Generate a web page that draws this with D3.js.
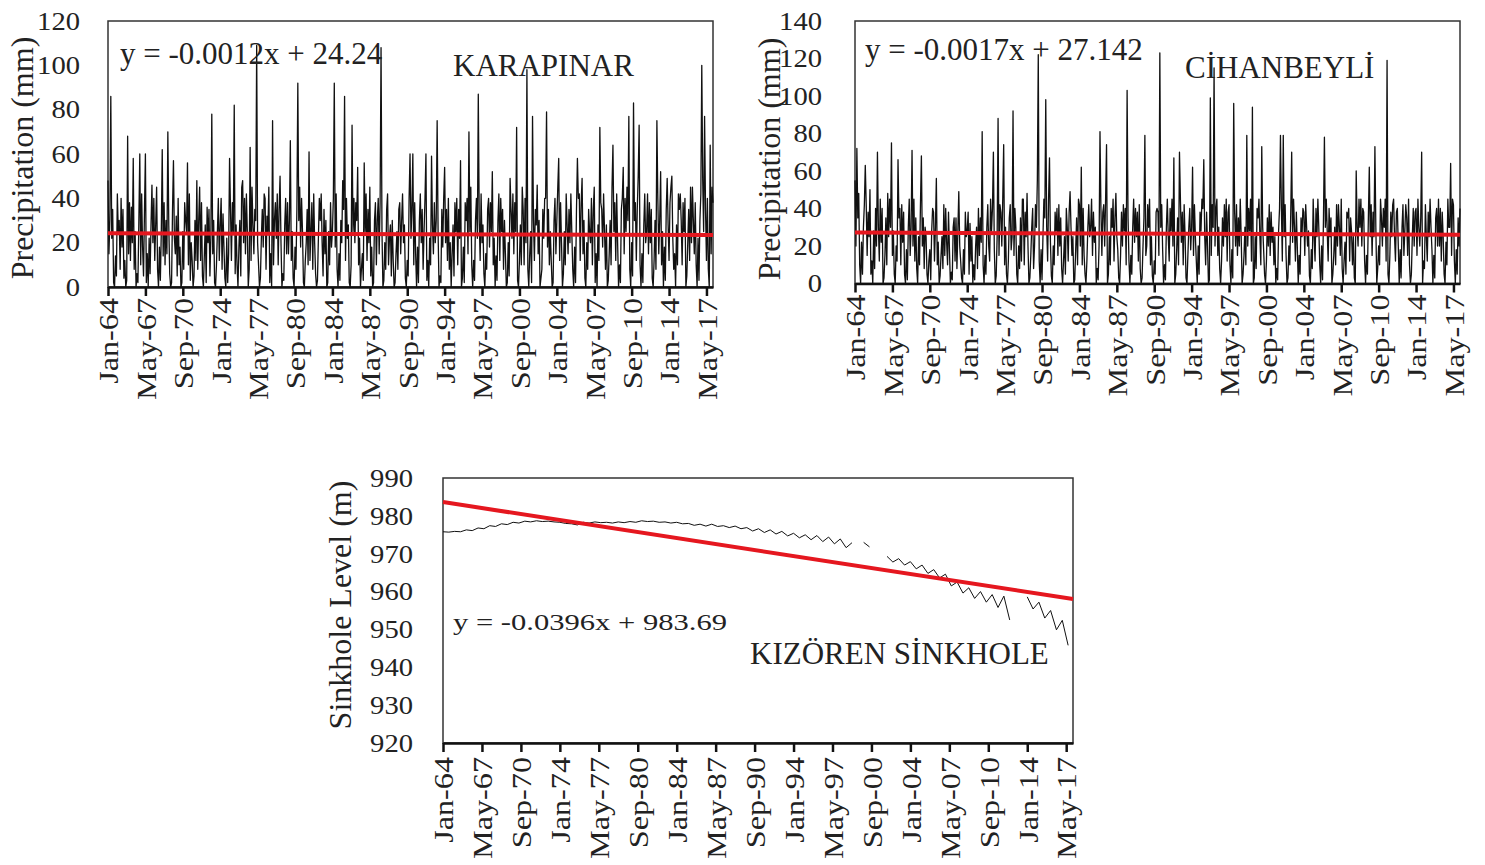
<!DOCTYPE html>
<html>
<head>
<meta charset="utf-8">
<script src="https://cdn.jsdelivr.net/npm/d3@7"></script>
<style>
  body { margin: 0; background: #fff; }
  text { font-family: "Liberation Serif", "Times New Roman", serif; fill: #222; }
</style>
</head>
<body>
<script>
// monthly categories Jan-64 .. Dec-17
var startYear = 1964;
var endYear = 2017;

var xTickLabels = ['Jan-64','May-67','Sep-70','Jan-74','May-77','Sep-80','Jan-84','May-87','Sep-90',
  'Jan-94','May-97','Sep-00','Jan-04','May-07','Sep-10','Jan-14','May-17'];

var precipTicks = [0, 20, 40, 60, 80, 100, 120];
var cihanTicks = [0, 20, 40, 60, 80, 100, 120, 140];
var levelTicks = [920, 930, 940, 950, 960, 970, 980, 990];

// monthly precipitation (mm), one row per year
var karapinar = [
  48,15,30,86,22,35,2,0,14,5,42,25,
  30,8,40,18,35,4,12,0,3,68,15,38,
  12,36,20,58,8,25,0,6,2,30,60,10,
  42,18,5,34,60,2,15,0,22,6,28,46,
  20,40,12,28,45,8,0,18,3,25,62,14,
  38,10,30,15,70,28,6,0,2,35,57,22,
  15,32,5,40,10,18,0,2,25,8,38,30,
  25,56,10,42,3,20,12,0,5,30,12,48,
  8,30,45,12,38,5,0,14,28,2,36,20,
  35,5,22,78,15,30,2,0,10,25,40,12,
  28,40,8,33,18,4,0,22,2,15,58,35,
  12,38,25,82,6,28,10,0,18,30,5,45,
  48,20,40,15,42,25,0,8,63,12,45,28,
  15,35,30,109,20,10,0,4,22,35,18,42,
  40,8,32,25,45,2,15,0,75,10,30,38,
  22,42,10,35,50,20,0,6,3,28,40,15,
  38,15,30,66,12,25,4,0,18,8,35,92,
  30,45,18,40,25,2,0,12,20,35,10,61,
  12,25,38,8,42,20,6,0,3,22,40,30,
  42,20,5,35,15,30,0,2,25,10,38,18,
  25,40,92,18,42,8,0,15,3,30,20,48,
  35,86,12,40,22,28,2,0,10,73,25,40,
  20,38,30,54,10,22,0,8,15,3,56,25,
  42,12,35,20,45,5,18,0,2,30,38,10,
  30,40,15,38,108,25,0,3,20,8,35,42,
  10,22,28,5,30,12,0,2,15,25,8,35,
  38,15,30,42,20,28,4,0,12,5,40,60,
  22,35,60,10,38,15,0,18,2,30,42,20,
  35,8,25,40,60,3,12,0,22,10,59,28,
  15,38,20,30,75,25,0,5,2,35,18,40,
  54,20,35,12,40,8,20,0,15,28,5,38,
  25,40,10,35,22,57,0,4,18,2,38,30,
  40,15,70,25,45,10,0,12,3,30,40,22,
  87,30,12,42,20,28,6,0,15,8,35,40,
  18,38,25,52,10,22,0,14,3,30,42,12,
  40,25,35,8,30,15,0,2,20,5,49,35,
  22,42,15,38,25,72,3,0,12,28,10,45,
  35,10,40,20,98,8,0,15,25,2,77,30,
  12,35,28,46,15,30,0,4,8,35,22,40,
  40,79,18,35,10,25,12,0,2,30,40,15,
  30,45,58,12,38,20,0,6,25,10,42,28,
  15,35,20,42,25,8,0,18,2,35,58,40,
  42,12,38,49,15,30,4,0,20,8,35,25,
  20,40,10,35,45,2,15,0,28,12,72,38,
  35,18,42,25,8,28,0,3,15,30,10,45,
  64,25,38,12,42,20,0,10,2,35,40,54,
  15,40,25,45,30,77,8,0,20,5,83,30,
  38,12,35,50,73,10,0,15,2,28,42,20,
  25,42,15,38,20,35,4,0,12,30,8,75,
  40,15,30,52,10,25,0,18,3,35,49,28,
  12,38,45,50,22,8,15,0,28,10,42,35,
  42,30,10,38,25,40,0,5,20,35,12,45,
  20,45,30,15,38,10,0,22,3,30,42,100,
  48,25,77,35,12,40,8,0,64,15,45,38
];

var cihanbeyli = [
  55,20,72,35,48,10,0,22,5,30,42,63,
  42,15,38,25,50,5,12,0,28,8,40,20,
  70,30,12,45,22,40,0,3,15,35,10,48,
  25,45,30,75,15,28,5,0,20,12,66,35,
  40,10,42,22,38,5,0,18,2,30,45,15,
  30,71,20,45,12,35,8,0,25,10,42,68,
  20,35,8,30,25,5,0,12,18,2,28,40,
  38,12,30,56,10,22,0,4,15,25,8,42,
  15,40,22,10,38,18,0,6,2,30,35,12,
  35,8,28,49,20,12,3,0,18,5,38,25,
  28,38,5,32,12,25,0,10,2,20,30,8,
  40,15,35,22,81,10,0,15,5,30,42,20,
  12,45,28,40,70,18,0,4,25,88,15,42,
  38,20,45,74,10,30,5,0,12,35,42,18,
  25,92,15,40,30,5,0,20,8,35,12,45,
  45,10,38,25,48,20,0,3,15,30,40,8,
  20,42,30,55,122,12,0,18,2,25,45,35,
  98,30,12,45,67,22,4,0,20,10,38,28,
  40,15,42,20,35,8,0,12,25,5,40,30,
  12,38,49,30,15,25,0,2,18,35,10,45,
  42,20,62,10,40,15,5,0,12,30,42,25,
  30,45,15,38,22,30,0,8,2,20,81,40,
  15,38,42,20,45,74,0,5,25,10,40,30,
  45,12,35,48,25,18,3,0,15,38,20,42,
  28,40,10,103,35,12,0,15,5,30,45,22,
  40,25,38,12,42,8,0,3,20,35,79,15,
  20,42,30,45,10,25,4,0,12,5,38,40,
  38,15,123,30,42,18,0,10,2,30,45,25,
  12,40,28,45,20,67,0,5,18,35,10,70,
  45,22,38,10,42,25,3,0,15,30,40,18,
  30,62,15,42,25,12,0,20,5,38,28,45,
  40,66,25,10,38,20,0,2,99,15,42,30,
  115,20,40,45,15,30,8,0,12,35,20,42,
  25,45,12,38,42,10,0,18,3,96,38,20,
  42,15,35,20,45,25,0,5,15,30,10,79,
  20,40,28,45,12,94,0,3,25,8,40,35,
  45,25,10,73,30,18,5,0,12,35,20,42,
  15,38,22,30,10,25,0,8,2,28,40,79,
  40,12,79,25,42,15,0,3,20,10,38,70,
  22,45,30,12,38,20,0,15,5,35,25,40,
  38,15,42,30,20,28,4,0,18,8,45,25,
  12,40,25,45,30,10,0,20,2,35,78,30,
  45,28,12,40,25,35,0,5,15,30,10,42,
  20,42,30,15,45,8,0,12,22,5,38,35,
  40,12,35,28,10,25,3,0,60,30,20,45,
  30,45,20,40,38,12,0,15,5,35,62,25,
  42,15,38,25,73,30,0,8,20,10,45,35,
  20,40,30,45,12,119,5,0,15,38,25,42,
  45,25,12,38,40,20,0,18,3,30,42,15,
  28,42,35,15,45,10,0,5,25,40,20,38,
  40,15,45,30,20,35,70,0,12,8,42,25,
  12,38,25,45,30,18,0,15,3,35,40,20,
  45,20,40,12,38,25,5,0,22,10,45,30,
  30,64,15,45,42,12,0,18,5,35,20,40
];

// sinkhole level (m), January and July readings per year, null = no reading
var sinkholeJan = [
  975.8,975.9,976.3,976.8,977.4,977.9,978.3,978.6,978.7,978.6,
  978.3,977.9,978.3,978.4,978.3,978.4,978.5,978.7,978.6,978.4,
  978.3,978.0,977.8,977.8,977.4,977.3,976.9,976.6,976.3,975.9,
  975.4,975.0,974.8,974.4,973.9,972.9,973.0,null,969.3,968.7,
  967.9,967.0,965.8,964.6,962.5,961.0,960.0,959.2,958.8,null,
  958.6,957.2,955.0,952.4
];
var sinkholeJul = [
  975.7,975.8,976.1,976.6,977.2,977.7,978.1,978.4,978.5,978.4,
  978.0,977.6,978.1,978.2,978.1,978.2,978.3,978.5,978.3,978.1,
  977.9,977.5,977.3,977.2,976.9,976.6,976.0,975.6,975.2,974.7,
  974.2,973.7,973.2,972.6,971.6,null,971.8,null,967.8,967.0,
  966.0,964.8,963.6,961.5,959.6,958.2,957.2,955.8,952.5,null,
  955.4,953.0,949.9,945.8
];

// linear trendlines [slope, intercept], x = month number (1..648)
var karapinarTrend = [-0.0012, 24.24];
var cihanbeyliTrend = [-0.0017, 27.142];
var sinkholeTrend = [-0.0396, 983.69];

/* ===== categories ===== */

var fmt = d3.timeFormat('%b-%y');
var months = d3.timeMonth.range(new Date(startYear, 0, 1), new Date(endYear + 1, 0, 1));
var categories = months.map(fmt);

var svg = d3.select('body').append('svg')
  .attr('width', 1485)
  .attr('height', 865);

var serif = '"Liberation Serif", "Times New Roman", serif';

/* ===== panel builder ===== */

function drawPanel(p) {
  var x = d3.scalePoint().domain(categories).range([p.left, p.right]);
  var y = d3.scaleLinear().domain(p.yDomain).range([p.bottom, p.top]);

  svg.append('rect')
    .attr('x', p.left).attr('y', p.top)
    .attr('width', p.right - p.left).attr('height', p.bottom - p.top)
    .attr('fill', 'none').attr('stroke', '#333').attr('stroke-width', 1.5);

  var line = d3.line()
    .defined(function(d) { return d.v != null; })
    .x(function(d) { return x(d.c); })
    .y(function(d) { return y(d.v); });

  svg.append('path')
    .datum(p.series)
    .attr('d', line)
    .attr('fill', 'none')
    .attr('stroke', '#111')
    .attr('stroke-width', p.lineWidth)
    .attr('stroke-linejoin', 'round');

  // trendline
  var n = categories.length;
  var trend = [
    { c: categories[0], v: p.trend[0] * 1 + p.trend[1] },
    { c: categories[n - 1], v: p.trend[0] * n + p.trend[1] }
  ];
  svg.append('path')
    .datum(trend)
    .attr('d', line)
    .attr('stroke', '#e5171f')
    .attr('stroke-width', 4)
    .attr('fill', 'none');

  // x axis
  var xAxis = d3.axisBottom(x)
    .tickValues(xTickLabels)
    .tickSize(9)
    .tickSizeOuter(0);

  var gx = svg.append('g')
    .attr('transform', 'translate(0,' + p.bottom + ')')
    .call(xAxis);
  gx.select('.domain').attr('stroke', '#111').attr('stroke-width', 2.5);
  gx.selectAll('.tick line').attr('stroke', '#111').attr('stroke-width', 2.5);
  gx.selectAll('.tick text')
    .attr('y', 0)
    .attr('x', -p.xLabelOffset / 1.15)
    .attr('dy', '0.35em')
    .attr('transform', 'rotate(-90) scale(1.15,1)')
    .style('text-anchor', 'end')
    .style('font-size', '28px')
    .style('font-family', serif)
    .attr('fill', '#222');

  // y axis
  var yAxis = d3.axisLeft(y)
    .tickValues(p.yTicks)
    .tickSize(0)
    .tickPadding(0);

  var gy = svg.append('g')
    .attr('transform', 'translate(' + p.yLabelRight + ',0)')
    .call(yAxis);
  gy.select('.domain').remove();
  gy.selectAll('.tick text')
    .attr('x', 0)
    .attr('transform', 'scale(1.1,1)')
    .style('font-size', '26px')
    .style('font-family', serif)
    .attr('fill', '#222');

  // axis title
  svg.append('text')
    .attr('transform', 'translate(' + p.titleX + ',' + p.titleY + ') rotate(-90)')
    .attr('text-anchor', 'middle')
    .style('font-size', '32px')
    .text(p.title);

  // trend equation
  svg.append('text')
    .attr('transform', 'translate(' + p.eqX + ',' + p.eqY + ') scale(' + p.eqScale + ',1)')
    .style('font-size', p.eqSize + 'px')
    .text(p.eq);

  // station name
  svg.append('text')
    .attr('x', p.nameX).attr('y', p.nameY)
    .style('font-size', '31px')
    .text(p.name);
}

/* ===== data series ===== */

function monthly(values) {
  return values.map(function(v, i) { return { c: categories[i], v: v }; });
}

var sinkholeSeries = [];
sinkholeJan.forEach(function(v, i) {
  sinkholeSeries.push({ c: categories[i * 12], v: v });
  sinkholeSeries.push({ c: categories[i * 12 + 6], v: sinkholeJul[i] });
});

drawPanel({
  left: 108, right: 713, top: 21, bottom: 287,
  yDomain: [0, 120], yTicks: precipTicks,
  series: monthly(karapinar), lineWidth: 1.3,
  trend: karapinarTrend,
  xLabelOffset: 11, yLabelRight: 80,
  title: 'Precipitation (mm)', titleX: 33, titleY: 158,
  eq: 'y = -0.0012x + 24.24', eqX: 120, eqY: 64, eqSize: 31, eqScale: 1,
  name: 'KARAPINAR', nameX: 453, nameY: 76
});

drawPanel({
  left: 855, right: 1460, top: 21, bottom: 283.5,
  yDomain: [0, 140], yTicks: cihanTicks,
  series: monthly(cihanbeyli), lineWidth: 1.3,
  trend: cihanbeyliTrend,
  xLabelOffset: 11, yLabelRight: 822,
  title: 'Precipitation (mm)', titleX: 780, titleY: 159,
  eq: 'y = -0.0017x + 27.142', eqX: 865, eqY: 60, eqSize: 31, eqScale: 1,
  name: 'CİHANBEYLİ', nameX: 1185, nameY: 78
});

drawPanel({
  left: 443, right: 1073, top: 478, bottom: 743,
  yDomain: [920, 990], yTicks: levelTicks,
  series: sinkholeSeries, lineWidth: 1,
  trend: sinkholeTrend,
  xLabelOffset: 14, yLabelRight: 413,
  title: 'Sinkhole Level (m)', titleX: 351, titleY: 605,
  eq: 'y = -0.0396x + 983.69', eqX: 453, eqY: 630, eqSize: 23, eqScale: 1.33,
  name: 'KIZÖREN SİNKHOLE', nameX: 750, nameY: 664
});
</script>
</body>
</html>
